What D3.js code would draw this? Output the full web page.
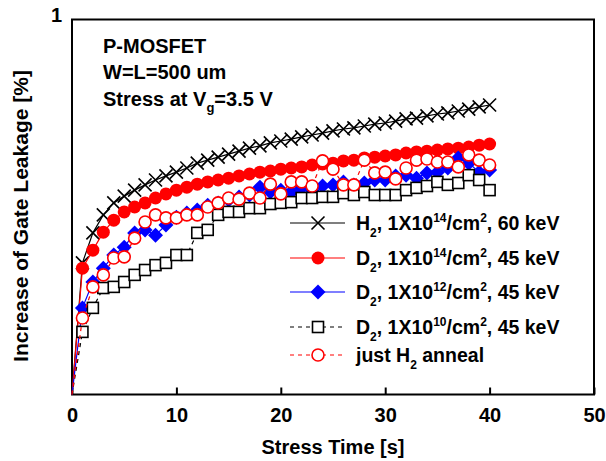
<!DOCTYPE html>
<html>
<head>
<meta charset="utf-8">
<script src="https://cdn.jsdelivr.net/npm/d3@7"></script>
<style>
  body { margin: 0; background: #fff; }
  text { font-family: "Liberation Sans", Arial, sans-serif; font-weight: bold; }
</style>
</head>
<body>
<svg id="chart" width="606" height="461"></svg>
<script>
// stress time [s]
var times = d3.range(0, 41);

// increase of gate leakage
var h2_1e14 = [0, 0.351, 0.431, 0.479, 0.511, 0.529, 0.545, 0.559, 0.572, 0.583, 0.593,
  0.604, 0.617, 0.625, 0.633, 0.641, 0.649, 0.657, 0.663, 0.671, 0.676,
  0.681, 0.687, 0.692, 0.697, 0.703, 0.708, 0.711, 0.716, 0.721, 0.724,
  0.729, 0.735, 0.737, 0.743, 0.748, 0.751, 0.756, 0.761, 0.767, 0.772];
var d2_1e14 = [0, 0.337, 0.385, 0.433, 0.465, 0.487, 0.500, 0.511, 0.524, 0.535, 0.545,
  0.553, 0.561, 0.567, 0.572, 0.577, 0.583, 0.588, 0.593, 0.596, 0.601,
  0.604, 0.607, 0.612, 0.615, 0.617, 0.623, 0.625, 0.631, 0.633, 0.636,
  0.639, 0.644, 0.647, 0.649, 0.652, 0.655, 0.657, 0.660, 0.665, 0.668];
var d2_1e12 = [0, 0.231, 0.300, 0.337, 0.372, 0.393, 0.431, 0.439, 0.425, 0.452, 0.473,
  0.484, 0.492, 0.505, 0.511, 0.519, 0.527, 0.532, 0.553, 0.540, 0.545,
  0.540, 0.551, 0.545, 0.556, 0.559, 0.567, 0.559, 0.564, 0.572, 0.572,
  0.583, 0.585, 0.577, 0.591, 0.593, 0.604, 0.631, 0.617, 0.593, 0.599];
var d2_1e10 = [0, 0.167, 0.231, 0.284, 0.287, 0.300, 0.319, 0.332, 0.345, 0.351, 0.372,
  0.372, 0.431, 0.439, 0.479, 0.487, 0.487, 0.497, 0.497, 0.508, 0.511,
  0.513, 0.524, 0.524, 0.527, 0.527, 0.537, 0.532, 0.540, 0.532, 0.532,
  0.532, 0.545, 0.551, 0.556, 0.567, 0.559, 0.564, 0.585, 0.572, 0.545];
var h2_anneal = [0, 0.204, 0.287, 0.319, 0.364, 0.367, 0.417, 0.460, 0.479, 0.471, 0.471,
  0.479, 0.479, 0.500, 0.511, 0.524, 0.521, 0.537, 0.524, 0.561, 0.535,
  0.567, 0.567, 0.556, 0.623, 0.601, 0.559, 0.559, 0.625, 0.591, 0.593,
  0.575, 0.604, 0.625, 0.628, 0.620, 0.620, 0.607, 0.639, 0.625, 0.612];

var xTicks = [0, 10, 20, 30, 40, 50];
var yTicks = [1];

var series = [
  {name: "h2", values: h2_1e14, color: "#000", dash: null, marker: "x"},
  {name: "d14", values: d2_1e14, color: "#ff0000", dash: null, marker: "dot"},
  {name: "d12", values: d2_1e12, color: "#0000ff", dash: null, marker: "diamond"},
  {name: "d10", values: d2_1e10, color: "#000", dash: "4,4", marker: "square"},
  {name: "ann", values: h2_anneal, color: "#ff0000", dash: "4,4", marker: "circle"}
];

var svg = d3.select("#chart");
var margin = {left: 72, right: 12, top: 19.5, bottom: 66.5};
var W = 606 - margin.left - margin.right;
var H = 461 - margin.top - margin.bottom;

var x = d3.scaleLinear().domain([0, 50]).range([0, W]);
var y = d3.scaleLinear().domain([0, 1]).range([H, 0]);

var g = svg.append("g").attr("transform", "translate(" + margin.left + "," + margin.top + ")");

// x axis, ticks pointing inward
var xAxis = g.append("g")
    .attr("transform", "translate(0," + H + ")")
    .call(d3.axisBottom(x).tickValues(xTicks).tickSize(-7).tickPadding(13).tickFormat(d3.format("d")));
xAxis.select(".domain").remove();
xAxis.selectAll("line").attr("stroke", "#000").attr("stroke-width", 2);
xAxis.selectAll("text").attr("font-size", 20).attr("fill", "#000");

var yAxis = g.append("g")
    .call(d3.axisLeft(y).tickValues(yTicks).tickSize(0).tickPadding(10).tickFormat(d3.format("d")));
yAxis.select(".domain").remove();
yAxis.selectAll("text").attr("font-size", 20).attr("fill", "#000").attr("dy", "0.1em");

// frame
g.append("rect")
    .attr("width", W).attr("height", H)
    .attr("fill", "none").attr("stroke", "#000").attr("stroke-width", 2);

function drawMarker(sel, type, color) {
  if (type == "x") {
    sel.append("path").attr("d", "M-6.5,-6.5L6.5,6.5M-6.5,6.5L6.5,-6.5")
      .attr("stroke", color).attr("stroke-width", 1.6).attr("fill", "none");
  } else if (type == "dot") {
    sel.append("circle").attr("r", 6.5).attr("fill", color);
  } else if (type == "diamond") {
    sel.append("path").attr("d", "M0,-7.5L7.5,0L0,7.5L-7.5,0Z").attr("fill", color);
  } else if (type == "square") {
    sel.append("rect").attr("x", -5.5).attr("y", -5.5).attr("width", 11).attr("height", 11)
      .attr("fill", "#fff").attr("stroke", color).attr("stroke-width", 1.6);
  } else if (type == "circle") {
    sel.append("circle").attr("r", 6)
      .attr("fill", "#fff").attr("stroke", color).attr("stroke-width", 1.6);
  }
}

var line = d3.line()
    .x(function(d) { return x(d.t); })
    .y(function(d) { return y(d.v); });

series.forEach(function(s) {
  var pts = times.map(function(t, i) { return {t: t, v: s.values[i]}; });
  g.append("path")
      .datum(pts)
      .attr("d", line)
      .attr("fill", "none")
      .attr("stroke", s.color)
      .attr("stroke-width", 1.2)
      .attr("stroke-dasharray", s.dash);
  g.append("g").selectAll("g")
      .data(pts.filter(function(d) { return d.t > 0; }))
      .join("g")
      .attr("transform", function(d) { return "translate(" + x(d.t) + "," + y(d.v) + ")"; })
      .each(function() { drawMarker(d3.select(this), s.marker, s.color); });
});

// axis titles
svg.append("text")
    .attr("x", margin.left + W / 2).attr("y", 454)
    .attr("text-anchor", "middle").attr("font-size", 20)
    .text("Stress Time [s]");
svg.append("text")
    .attr("transform", "translate(28," + 216 + ") rotate(-90)")
    .attr("text-anchor", "middle").attr("font-size", 21)
    .text("Increase of Gate Leakage [%]");

// annotation
var note = svg.append("g").attr("font-size", 20);
note.append("text").attr("x", 103).attr("y", 53).text("P-MOSFET");
note.append("text").attr("x", 103).attr("y", 79).text("W=L=500 um");
var st = note.append("text").attr("x", 103).attr("y", 106);
st.append("tspan").text("Stress at V");
st.append("tspan").attr("font-size", 13).attr("dy", 6).text("g");
st.append("tspan").attr("dy", -6).text("=3.5 V");

// legend
var legendRows = [
  {s: 0, parts: [["H", 0], ["2", 1], [", 1X10", 0], ["14", 2], ["/cm", 0], ["2", 2], [", 60 keV", 0]]},
  {s: 1, parts: [["D", 0], ["2", 1], [", 1X10", 0], ["14", 2], ["/cm", 0], ["2", 2], [", 45 keV", 0]]},
  {s: 2, parts: [["D", 0], ["2", 1], [", 1X10", 0], ["12", 2], ["/cm", 0], ["2", 2], [", 45 keV", 0]]},
  {s: 3, parts: [["D", 0], ["2", 1], [", 1X10", 0], ["10", 2], ["/cm", 0], ["2", 2], [", 45 keV", 0]]},
  {s: 4, parts: [["just H", 0], ["2", 1], [" anneal", 0]]}
];
var legendY = [223, 258, 292, 327, 355];

var legend = svg.append("g").attr("class", "legend");
legendRows.forEach(function(row, i) {
  var s = series[row.s];
  var ly = legendY[i];
  legend.append("line")
      .attr("x1", 290).attr("x2", 345).attr("y1", ly).attr("y2", ly)
      .attr("stroke", s.color).attr("stroke-width", 1.2)
      .attr("stroke-dasharray", s.dash);
  var m = legend.append("g").attr("transform", "translate(318," + ly + ")");
  drawMarker(m, s.marker, s.color);
  var t = legend.append("text").attr("x", 356).attr("y", ly + 7).attr("font-size", 19.5);
  var shift = 0;
  row.parts.forEach(function(p) {
    var target = p[1] == 1 ? 7 : (p[1] == 2 ? -8 : 0);
    var sp = t.append("tspan").attr("dy", target - shift).text(p[0]);
    if (p[1] > 0) sp.attr("font-size", 12);
    shift = target;
  });
});
</script>
</body>
</html>
